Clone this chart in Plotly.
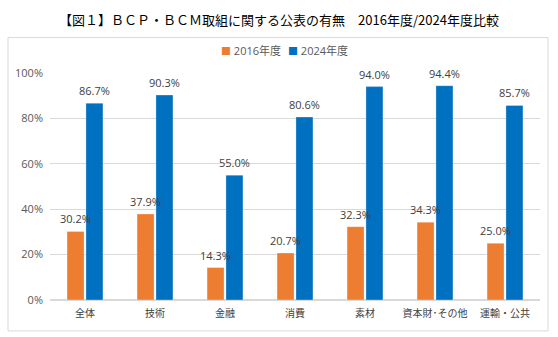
import plotly.graph_objects as go

categories = ["全体", "技術", "金融", "消費", "素材", "資本財･その他", "運輸・公共"]
values_2016 = [30.2, 37.9, 14.3, 20.7, 32.3, 34.3, 25.0]
values_2024 = [86.7, 90.3, 55.0, 80.6, 94.0, 94.4, 85.7]
series_names = ["2016年度", "2024年度"]
series_colors = ["#ED7D31", "#0070C0"]
y_ticks = [0, 20, 40, 60, 80, 100]
y_tick_labels = ["0%", "20%", "40%", "60%", "80%", "100%"]

W, H = 558, 337
L, R, T, B = 50, 18, 72.5, 37
pw, ph = W - L - R, H - T - B
BARGAP, GROUPGAP = 0.46, 0.1

def px_x(p):
    return (p - L) / pw

def px_y(p):
    return (H - B - p) / ph

font_fam = "Open Sans, Noto Sans CJK JP, sans-serif"
fig = go.Figure()
cat_px = pw / len(categories)
slot = cat_px * (1 - BARGAP) / 2
offsets = [-slot / 2, slot / 2]

for name, vals, col, off in [(series_names[0], values_2016, series_colors[0], offsets[0]),
                             (series_names[1], values_2024, series_colors[1], offsets[1])]:
    fig.add_trace(go.Bar(
        x=categories, y=vals, name=name,
        marker=dict(color=col, line=dict(color="rgba(255,255,255,0.6)", width=0.5)),
        showlegend=False,
    ))
    for c, v in zip(categories, vals):
        fig.add_annotation(x=c, y=v, xref="x", yref="y", text=f"{v:.1f}%",
                           showarrow=False, xanchor="center", yanchor="bottom",
                           xshift=off, yshift=3,
                           font=dict(size=11, color="#404040", family=font_fam))

fig.add_shape(type="rect", xref="paper", yref="paper",
              x0=px_x(8), x1=px_x(548), y0=px_y(331), y1=px_y(37),
              line=dict(color="#D9D9D9", width=1), layer="below")

# manual legend
legend_x = [px_x(251), px_x(318)]
for name, col, lx in zip(series_names, series_colors, legend_x):
    fig.add_annotation(xref="paper", yref="paper", x=lx, y=px_y(50),
                       xanchor="center", yanchor="middle", showarrow=False,
                       text=f"<span style='color:{col};font-size:10px'>■</span> {name}",
                       font=dict(size=11, color="#595959", family=font_fam))

fig.update_layout(
    width=W, height=H,
    margin=dict(l=L, r=R, t=T, b=B, autoexpand=False),
    paper_bgcolor="white", plot_bgcolor="white",
    barmode="group", bargap=BARGAP, bargroupgap=GROUPGAP,
    font=dict(family=font_fam, color="#404040", size=11),
    title=dict(text="【図１】ＢＣＰ・ＢＣＭ取組に関する公表の有無　2016年度/2024年度比較",
               x=0.5, xref="container", xanchor="center",
               y=1 - 20 / H, yref="container", yanchor="middle",
               font=dict(size=13, color="black", family="Noto Sans CJK JP")),
    showlegend=False,
)
fig.update_yaxes(range=[0, 100], tickvals=y_ticks, ticktext=y_tick_labels,
                 showgrid=True, gridcolor="#D9D9D9", gridwidth=1,
                 zeroline=True, zerolinecolor="#D9D9D9", showline=False,
                 ticks="", tickfont=dict(size=11, color="#595959"), ticklabelstandoff=6)
fig.update_xaxes(showline=False, ticks="", tickfont=dict(size=10, color="#404040"),
                 ticklabelstandoff=6)

fig.write_html("out.html")
